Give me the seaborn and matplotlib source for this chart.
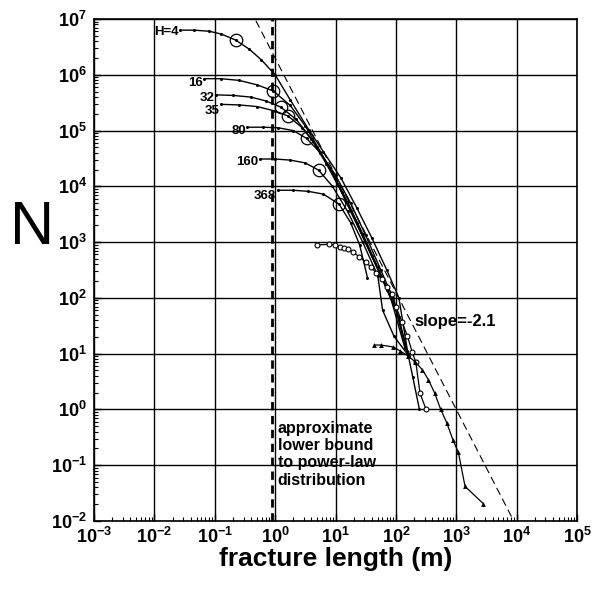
import numpy as np
import pandas as pd
import matplotlib
matplotlib.use("Agg")
import matplotlib.pyplot as plt
import seaborn as sns
from matplotlib.ticker import LogLocator, FuncFormatter, NullFormatter

# ---------------- data (log10 values) ----------------
H_labels = ["H=4", "16", "32", "35", "80", "160", "368"]
H_label_dy = [-1, -3, -2, -5, -3, -2, -4]   # small label offsets (points)

h4_lx = [-1.57, -1.34, -1.09, -0.89, -0.65, -0.43, -0.23, 0.00, 0.25, 0.56, 0.80, 1.09, 1.35, 1.60, 1.85, 2.05, 2.20, 2.28, 2.39]
h4_ly = [6.80, 6.80, 6.78, 6.73, 6.62, 6.46, 6.27, 6.00, 5.55, 5.01, 4.62, 4.15, 3.62, 3.08, 2.50, 2.00, 1.00, 0.58, 0.00]

h16_lx = [-1.175, -0.90, -0.60, -0.30, -0.03, 0.25, 0.50, 0.75, 1.00, 1.25, 1.50, 1.75, 2.00, 2.20]
h16_ly = [5.93, 5.93, 5.90, 5.82, 5.71, 5.45, 5.08, 4.62, 4.12, 3.55, 2.98, 2.40, 1.80, 1.00]

h32_lx = [-0.98, -0.70, -0.40, -0.15, 0.094, 0.35, 0.60, 0.85, 1.10, 1.35, 1.60, 1.85, 2.05, 2.18]
h32_ly = [5.64, 5.63, 5.60, 5.53, 5.42, 5.20, 4.85, 4.40, 3.90, 3.35, 2.75, 2.15, 1.65, 1.05]

h35_lx = [-0.90, -0.60, -0.30, 0.00, 0.215, 0.45, 0.70, 0.95, 1.20, 1.45, 1.70, 1.90, 2.15]
h35_ly = [5.47, 5.46, 5.43, 5.35, 5.26, 5.05, 4.70, 4.25, 3.72, 3.15, 2.55, 2.05, 1.10]

h80_lx = [-0.46, -0.20, 0.05, 0.30, 0.52, 0.75, 1.00, 1.25, 1.50, 1.75, 1.95, 2.20]
h80_ly = [5.06, 5.06, 5.05, 5.00, 4.86, 4.60, 4.20, 3.70, 3.12, 2.50, 2.00, 0.95]

h160_lx = [-0.25, 0.00, 0.25, 0.50, 0.72, 0.95, 1.20, 1.45, 1.70, 1.78, 1.97, 2.22]
h160_ly = [4.49, 4.49, 4.47, 4.42, 4.29, 4.00, 3.55, 3.00, 2.40, 1.78, 1.31, 0.95]

h368_lx = [0.04, 0.30, 0.55, 0.80, 1.06, 1.25, 1.40, 1.53]
h368_ly = [3.93, 3.93, 3.91, 3.86, 3.68, 3.35, 2.95, 2.36]

circ_lx = [-0.65, -0.03, 0.094, 0.215, 0.52, 0.72, 1.06]
circ_ly = [6.62, 5.71, 5.42, 5.26, 4.86, 4.29, 3.68]

open_lx = [0.70, 0.894, 0.993, 1.076, 1.142, 1.214, 1.291, 1.391, 1.502, 1.589, 1.677, 1.776, 1.854, 1.937, 2.003, 2.10, 2.19, 2.27, 2.33, 2.40, 2.50]
open_ly = [2.95, 2.96, 2.95, 2.92, 2.90, 2.87, 2.82, 2.74, 2.64, 2.55, 2.44, 2.34, 2.20, 2.07, 1.84, 1.57, 1.32, 1.03, 0.85, 0.29, 0.00]

tri_lx = [1.64, 1.75, 1.954, 2.07, 2.20, 2.318, 2.44, 2.54, 2.644, 2.743, 2.843, 2.947, 3.035, 3.146, 3.449]
tri_ly = [1.155, 1.155, 1.12, 1.05, 0.96, 0.857, 0.71, 0.53, 0.29, 0.00, -0.24, -0.55, -0.77, -1.38, -1.69]

slope = -2.1
slope_anchor_L = 1000.0
slope_anchor_N = 1.0
slope_L = [0.3, 20000.0]
lower_bound_L = 0.875

H_curves = [(h4_lx, h4_ly), (h16_lx, h16_ly), (h32_lx, h32_ly), (h35_lx, h35_ly),
            (h80_lx, h80_ly), (h160_lx, h160_ly), (h368_lx, h368_ly)]

rows = []
for lab, (lx, ly) in zip(H_labels, H_curves):
    for a, b in zip(lx, ly):
        rows.append({"H": lab, "L": 10 ** a, "N": 10 ** b})
df = pd.DataFrame(rows)

# ---------------- figure ----------------
sns.set_style("white")
plt.rcParams["font.family"] = ["Liberation Sans", "DejaVu Sans"]
plt.rcParams["text.color"] = "black"
plt.rcParams["axes.labelcolor"] = "black"
plt.rcParams["xtick.color"] = "black"
plt.rcParams["ytick.color"] = "black"
plt.rcParams["axes.unicode_minus"] = False
plt.rcParams["mathtext.fontset"] = "custom"
plt.rcParams["mathtext.rm"] = "Liberation Sans"
plt.rcParams["mathtext.bf"] = "Liberation Sans:bold"

fig = plt.figure(figsize=(6.06, 5.97), dpi=100)
ax = fig.add_axes([94 / 606, 1 - 521 / 597, (577 - 94) / 606, (521 - 19) / 597])

ax.set_xscale("log")
ax.set_yscale("log")
ax.set_xlim(1e-3, 1e5)
ax.set_ylim(1e-2, 1e7)

ax.grid(True, which="major", color="black", linewidth=1.0)
ax.set_axisbelow(True)

sns.lineplot(data=df, x="L", y="N", units="H", estimator=None, sort=False,
             color="black", linewidth=1.0, marker="o", markersize=2.2,
             markeredgewidth=0, ax=ax, legend=False)

ax.plot(10 ** np.array(circ_lx), 10 ** np.array(circ_ly), "o", mfc="none",
        mec="black", ms=9, mew=0.9)

sns.lineplot(x=10 ** np.array(open_lx), y=10 ** np.array(open_ly), color="black",
             linewidth=0.9, marker="o", markersize=3.5, markerfacecolor="white",
             markeredgecolor="black", markeredgewidth=0.8, sort=False, ax=ax)

sns.lineplot(x=10 ** np.array(tri_lx), y=10 ** np.array(tri_ly), color="black",
             linewidth=0.9, marker="^", markersize=3.5, markeredgewidth=0,
             sort=False, ax=ax)

sL = np.array(slope_L)
sN = slope_anchor_N * (sL / slope_anchor_L) ** slope
ax.plot(sL, sN, color="black", linewidth=0.8, dashes=(7, 4))

ax.axvline(lower_bound_L, color="black", linewidth=2.0, dashes=(3, 2))

# labels of H curves
for lab, dy, (lx, ly) in zip(H_labels, H_label_dy, H_curves):
    ax.annotate(lab, (10 ** lx[0], 10 ** ly[0]), xytext=(-1, dy),
                textcoords="offset points", ha="right", va="center",
                fontsize=9.5, fontweight="bold", color="black")

ax.text(10 ** 2.3, 10 ** 1.58, "slope=-2.1", fontsize=12, fontweight="bold",
        ha="left", va="center", color="black")
ax.text(10 ** 0.04, 10 ** -0.2, "approximate\nlower bound\nto power-law\ndistribution",
        fontsize=11.5, fontweight="bold", ha="left", va="top", linespacing=1.2,
        color="black")

# ticks
ax.xaxis.set_major_locator(LogLocator(base=10, numticks=20))
ax.yaxis.set_major_locator(LogLocator(base=10, numticks=20))
ax.xaxis.set_minor_locator(LogLocator(base=10, subs=np.arange(2, 10), numticks=20))
ax.yaxis.set_minor_locator(LogLocator(base=10, subs=np.arange(2, 10), numticks=20))
fmt = FuncFormatter(lambda v, p: r"$\mathbf{10^{%d}}$" % int(round(np.log10(v))))
ax.xaxis.set_major_formatter(fmt)
ax.yaxis.set_major_formatter(fmt)
ax.xaxis.set_minor_formatter(NullFormatter())
ax.yaxis.set_minor_formatter(NullFormatter())
ax.tick_params(which="both", direction="in", top=False, right=False,
               bottom=True, left=True, colors="black")
ax.tick_params(which="major", length=5, width=1, labelsize=13, pad=5)
ax.tick_params(axis="x", which="major", pad=4)
ax.tick_params(which="minor", length=3, width=0.8)

for s in ax.spines.values():
    s.set_color("black")
    s.set_linewidth(1.2)

ax.set_xlabel("fracture length (m)", fontsize=19, fontweight="bold", labelpad=0,
              color="black")
ax.set_ylabel("")
fig.text(32 / 606, 1 - 228 / 597, "N", fontsize=44, ha="center", va="center",
         color="black")

fig.savefig("out.png", dpi=100, facecolor="white")
